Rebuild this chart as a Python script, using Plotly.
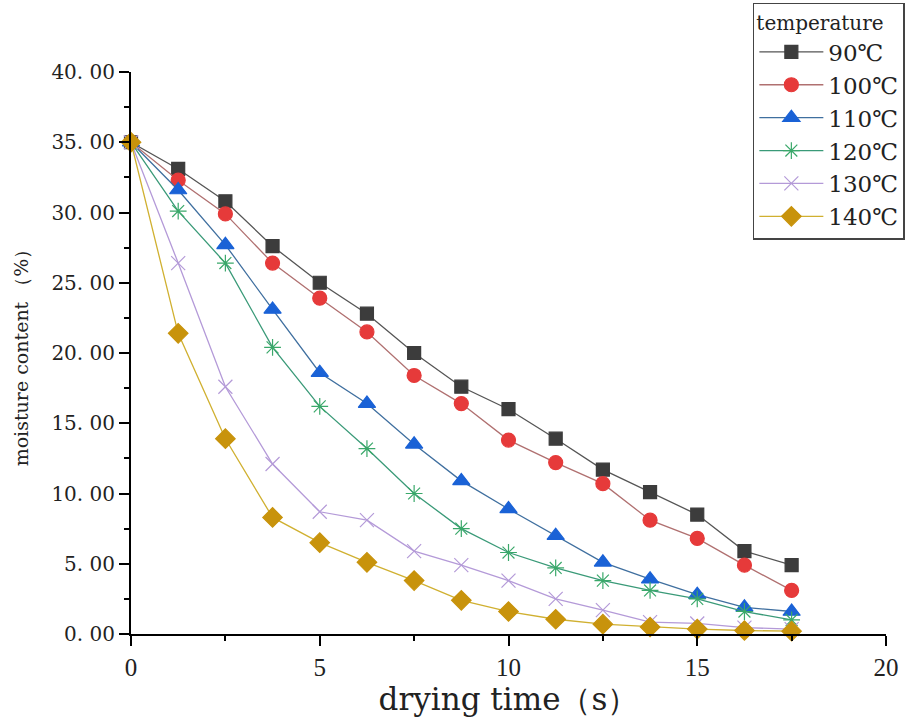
import plotly.graph_objects as go

time_s = [0, 1.25, 2.5, 3.75, 5, 6.25, 7.5, 8.75, 10, 11.25, 12.5, 13.75, 15, 16.25, 17.5]

m90 = [35.0, 33.1, 30.8, 27.6, 25.0, 22.8, 20.0, 17.6, 16.0, 13.9, 11.7, 10.1, 8.5, 5.9, 4.9]
m100 = [35.0, 32.3, 29.9, 26.4, 23.9, 21.5, 18.4, 16.4, 13.8, 12.2, 10.7, 8.1, 6.8, 4.9, 3.1]
m110 = [35.0, 31.6, 27.7, 23.1, 18.6, 16.4, 13.5, 10.9, 8.9, 7.0, 5.1, 3.9, 2.8, 1.9, 1.6]
m120 = [35.0, 30.1, 26.4, 20.4, 16.2, 13.2, 10.0, 7.5, 5.8, 4.7, 3.8, 3.1, 2.5, 1.6, 1.0]
m130 = [35.0, 26.4, 17.6, 12.1, 8.7, 8.1, 5.9, 4.9, 3.8, 2.5, 1.7, 0.85, 0.75, 0.45, 0.35]
m140 = [35.0, 21.4, 13.9, 8.3, 6.5, 5.1, 3.8, 2.4, 1.6, 1.05, 0.7, 0.5, 0.35, 0.25, 0.2]

x_ticks = [0, 5, 10, 15, 20]
y_ticks = [0, 5, 10, 15, 20, 25, 30, 35, 40]
y_tick_labels = ["0. 00", "5. 00", "10. 00", "15. 00", "20. 00", "25. 00", "30. 00", "35. 00", "40. 00"]

series = [
    ("90℃", m90, "#3c3c3c", "#555555", "square", 13),
    ("100℃", m100, "#e63a3a", "#b07070", "circle", 14),
    ("110℃", m110, "#1a62d6", "#3f6f9f", "triangle-up", 15),
    ("120℃", m120, "#3aa86a", "#3a9a78", "asterisk-open", 14),
    ("130℃", m130, "#b49ad8", "#b49ad8", "x-thin-open", 14),
    ("140℃", m140, "#c8930c", "#d0b030", "diamond", 15),
]

fig = go.Figure()
for name, vals, mcol, lcol, sym, size in series:
    fig.add_trace(go.Scatter(
        x=time_s, y=vals, name=name, mode="lines+markers",
        line=dict(color=lcol, width=1.3),
        marker=dict(symbol=sym, size=size, color=mcol,
                    line=dict(color=mcol, width=1.2)),
        cliponaxis=False,
    ))

serif = "Liberation Serif, serif"
wide_serif = "DejaVu Serif, serif"

fig.update_layout(
    width=917, height=722,
    margin=dict(l=131, r=31, t=72, b=88, autoexpand=False),
    paper_bgcolor="white", plot_bgcolor="white",
    font=dict(family=serif, color="#222222"),
    showlegend=True,
    legend=dict(
        title=dict(text="temperature", font=dict(size=20, family=wide_serif)),
        font=dict(size=23, family=wide_serif),
        xref="container", yref="container",
        x=0.821, y=0.996, xanchor="left", yanchor="top",
        bordercolor="#444444", borderwidth=1.5, bgcolor="white",
        tracegroupgap=0, itemwidth=64,
    ),
    xaxis=dict(
        range=[0, 20], tickvals=x_ticks,
        showgrid=False, zeroline=False,
        showline=True, linecolor="black", linewidth=2,
        ticks="outside", ticklen=10, tickwidth=2, tickcolor="black",
        minor=dict(tickvals=[2.5, 7.5, 12.5, 17.5], ticks="outside", ticklen=5, tickwidth=2, tickcolor="black"),
        tickfont=dict(size=25, family=serif),
        title=dict(text="drying time（s）", font=dict(size=31, family=wide_serif), standoff=6),
    ),
    yaxis=dict(
        range=[0, 40], tickvals=y_ticks, ticktext=y_tick_labels,
        showgrid=False, zeroline=False,
        showline=True, linecolor="black", linewidth=2,
        ticks="outside", ticklen=10, tickwidth=2, tickcolor="black",
        minor=dict(tickvals=[2.5, 7.5, 12.5, 17.5, 22.5, 27.5, 32.5, 37.5], ticks="outside", ticklen=5, tickwidth=2, tickcolor="black"),
        tickfont=dict(size=20, family=wide_serif),
        title=dict(text="moisture content （%）", font=dict(size=19, family=wide_serif), standoff=18),
    ),
)

fig.write_html("out.html", post_script="document.body.style.margin='0';",
               config={"displayModeBar": False})
